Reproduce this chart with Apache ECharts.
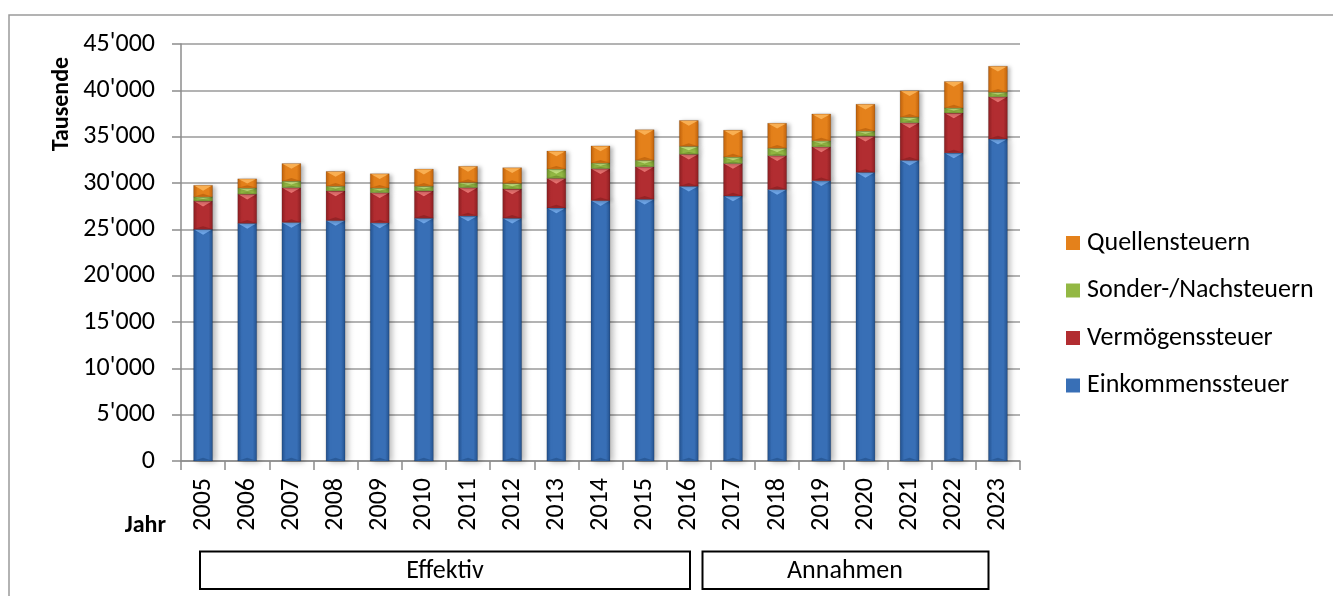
<!DOCTYPE html>
<html>
<head>
<meta charset="utf-8">
<title>Steuererträge natürliche Personen</title>
<script src="https://cdn.jsdelivr.net/npm/echarts@6/dist/echarts.min.js"></script>
<style>
  html, body { margin: 0; padding: 0; background: #fff; }
  #chart { width: 1333px; height: 596px; }
</style>
</head>
<body>
<div id="chart"></div>
<script>
// Jahre
const categories = ['2005', '2006', '2007', '2008', '2009', '2010', '2011', '2012', '2013', '2014',
  '2015', '2016', '2017', '2018', '2019', '2020', '2021', '2022', '2023'];

// Erträge in Tausend Franken
const einkommenssteuer = [25000, 25650, 25750, 25950, 25700, 26200, 26450, 26200, 27300, 28100,
  28250, 29650, 28600, 29300, 30250, 31150, 32450, 33250, 34750];
const vermoegenssteuer = [3050, 3150, 3750, 3200, 3250, 2950, 3050, 3150, 3200, 3450,
  3500, 3450, 3500, 3650, 3650, 3900, 4050, 4300, 4550];
const sondersteuern = [450, 650, 700, 500, 500, 500, 550, 600, 1000, 600,
  700, 850, 700, 800, 650, 550, 600, 550, 500];
const quellensteuern = [1250, 1000, 1900, 1600, 1550, 1850, 1750, 1700, 1950, 1850,
  3300, 2800, 2900, 2700, 2900, 2900, 2850, 2850, 2800];

const seriesNames = ['Einkommenssteuer', 'Vermögenssteuer', 'Sonder-/Nachsteuern', 'Quellensteuern'];
const layers = [einkommenssteuer, vermoegenssteuer, sondersteuern, quellensteuern];

// y-Achse
const yMax = 45000;
const yStep = 5000;

const periodLabels = ['Effektiv', 'Annahmen'];

// Farbtöne je Steuerart: Rand, Mitte, Glanzlicht oben, Schatten unten
const palette = [
  { edge: '#22508c', mid: '#386fb6', light: '#74acee', dark: '#1f4a82' },
  { edge: '#8a1e21', mid: '#b22d31', light: '#f07a78', dark: '#7e1b1e' },
  { edge: '#6e8f2a', mid: '#93b844', light: '#cdeb86', dark: '#5f7d22' },
  { edge: '#bd600b', mid: '#e4811b', light: '#fbb459', dark: '#ad5608' }
];

const FONT = 'Carlito, Lato, sans-serif';
const FS = 26;
const fmt = v => String(v).replace(/\B(?=(\d{3})+(?!\d))/g, "'");

function renderLayer(k) {
  return function (params, api) {
    const i = api.value(0);
    const base = api.value(1);
    const top = api.value(2);
    const p0 = api.coord([i, base]);
    const p1 = api.coord([i, top]);
    const band = api.size([1, 0])[0];
    const w = band * 0.43;
    const x = p0[0] - w / 2;
    const y = p1[1];
    const h = p0[1] - p1[1];
    const c = palette[k];
    const tri = Math.min(w * 0.28, h / 2);
    const grad = new echarts.graphic.LinearGradient(0, 0, 1, 0, [
      { offset: 0, color: c.edge },
      { offset: 0.22, color: c.mid },
      { offset: 0.78, color: c.mid },
      { offset: 1, color: c.edge }
    ]);
    return {
      type: 'group',
      children: [
        {
          type: 'rect',
          shape: { x: x, y: y, width: w, height: h },
          style: {
            fill: grad,
            stroke: 'rgba(0,0,0,0.25)',
            lineWidth: 0.6,
            shadowBlur: k === 0 ? 6 : 4,
            shadowOffsetX: 3,
            shadowOffsetY: 1,
            shadowColor: 'rgba(0,0,0,0.28)'
          }
        },
        {
          type: 'polygon',
          shape: { points: [[x + 1, y + 0.5], [x + w - 1, y + 0.5], [x + w / 2, y + tri]] },
          style: { fill: c.light, opacity: 0.9 }
        },
        {
          type: 'polygon',
          shape: { points: [[x + 1, y + h - 0.5], [x + w - 1, y + h - 0.5], [x + w / 2, y + h - tri * 0.6]] },
          style: { fill: c.dark, opacity: 0.55 }
        }
      ]
    };
  };
}

const series = layers.map((vals, k) => ({
  name: seriesNames[k],
  type: 'custom',
  renderItem: renderLayer(k),
  encode: { x: 0, y: [1, 2] },
  itemStyle: { color: palette[k].mid },
  data: vals.map((v, i) => {
    let base = 0;
    for (let j = 0; j < k; j++) base += layers[j][i];
    return [i, base, base + v];
  })
}));

const chart = echarts.init(document.getElementById('chart'), null, { renderer: 'canvas' });

chart.setOption({
  backgroundColor: '#ffffff',
  animation: false,
  textStyle: { fontFamily: FONT },
  grid: { left: 181, right: 313, top: 44, bottom: 135 },
  legend: {
    orient: 'vertical',
    left: 1061,
    top: 224,
    icon: 'rect',
    itemWidth: 14,
    itemHeight: 14,
    itemGap: 19.5,
    textStyle: { fontFamily: FONT, fontSize: FS, color: '#000', lineHeight: 28, padding: [0, 0, 0, 2] },
    data: seriesNames.slice().reverse()
  },
  xAxis: {
    type: 'category',
    data: categories,
    boundaryGap: true,
    axisLine: { lineStyle: { color: '#8c8c8c', width: 1.5 } },
    axisTick: { show: true, length: 9, alignWithLabel: false, lineStyle: { color: '#8c8c8c', width: 1.5 } },
    axisLabel: { rotate: 90, margin: 17, fontSize: FS, color: '#000', fontFamily: FONT, interval: 0 },
    splitLine: { show: false }
  },
  yAxis: {
    type: 'value',
    min: 0,
    max: yMax,
    interval: yStep,
    axisLine: { show: true, lineStyle: { color: '#8c8c8c', width: 1.5 } },
    axisTick: { show: true, length: 9, lineStyle: { color: '#8c8c8c', width: 1.5 } },
    axisLabel: { margin: 26, fontSize: FS, color: '#000', fontFamily: FONT, formatter: fmt },
    splitLine: { show: true, lineStyle: { color: '#9a9a9a', width: 1.5 } }
  },
  graphic: [
    {
      type: 'rect',
      shape: { x: 9, y: 15, width: 1340, height: 620 },
      style: { fill: 'none', stroke: '#9a9a9a', lineWidth: 1.5 },
      silent: true
    },
    {
      type: 'text',
      x: 62, y: 104,
      rotation: Math.PI / 2,
      style: { text: 'Tausende', fontFamily: FONT, fontSize: 24, fontWeight: 'bold', fill: '#000', align: 'center', verticalAlign: 'middle' }
    },
    {
      type: 'text',
      x: 166, y: 526,
      style: { text: 'Jahr', fontFamily: FONT, fontSize: 24, fontWeight: 'bold', fill: '#000', align: 'right', verticalAlign: 'middle' }
    },
    {
      type: 'rect',
      shape: { x: 200, y: 551.5, width: 490, height: 37.5 },
      style: { fill: '#fff', stroke: '#000', lineWidth: 2 }
    },
    {
      type: 'text',
      x: 445, y: 571,
      style: { text: periodLabels[0], fontFamily: FONT, fontSize: FS, fill: '#000', align: 'center', verticalAlign: 'middle' }
    },
    {
      type: 'rect',
      shape: { x: 702.5, y: 551.5, width: 286, height: 37.5 },
      style: { fill: '#fff', stroke: '#000', lineWidth: 2 }
    },
    {
      type: 'text',
      x: 845, y: 571,
      style: { text: periodLabels[1], fontFamily: FONT, fontSize: FS, fill: '#000', align: 'center', verticalAlign: 'middle' }
    }
  ],
  series: series
});
</script>
</body>
</html>
